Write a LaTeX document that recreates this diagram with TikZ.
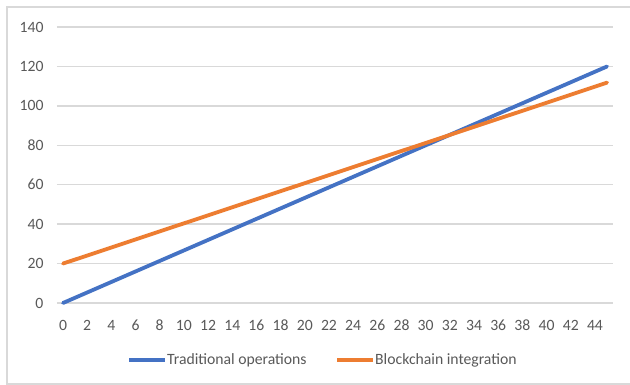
\documentclass[tikz,border=0pt]{standalone}
\usepackage{fontspec}
\setmainfont{Carlito}
\definecolor{xlblue}{HTML}{4472C4}
\definecolor{xlorange}{HTML}{ED7D31}
\definecolor{gridgray}{HTML}{D9D9D9}
\definecolor{labelgray}{HTML}{595959}
\tikzset{
  gridline/.style={gridgray, line width=1.4pt},
  ticklabel/.style={labelgray, font=\fontsize{15.7}{17}\selectfont, inner sep=0pt},
  series/.style={line width=3.8pt, line cap=round},
}
\begin{document}
\begin{tikzpicture}[x=1pt,y=1pt]
\useasboundingbox (0,0) rectangle (630,385);
\fill[white] (0,0) rectangle (630,385);
% chart frame
\draw[gridgray, line width=1.2pt] (632,378) -- (7,378) -- (7,1) -- (632,1);
\begin{scope}[shift={(63pt,82pt)}, x=12.09pt, y=1.971pt]
% horizontal grid and y labels
\foreach \v in {0,20,...,140} {
  \draw[gridline] (-0.5,\v) -- (45.5,\v);
  \node[ticklabel, anchor=east] (ylab\v) at (-1.6,\v) {\v};
}
% x labels
\foreach \i in {0,2,...,44}
  \node[ticklabel] (xlab\i) at (\i,-11.2) {\i};
% series
\draw[series, xlblue] (0,0) -- (45,120);
\draw[series, xlorange] (0,20) -- (45,111.8);
\end{scope}
% legend
\coordinate (tradA) at (129,25);
\coordinate (tradB) at (165,25);
\coordinate (blockA) at (337,25);
\coordinate (blockB) at (373,25);
\draw[series, xlblue, line cap=butt] (tradA) -- (tradB);
\node[ticklabel, anchor=west] (tradtxt) at (167,25) {Traditional operations};
\draw[series, xlorange, line cap=butt] (blockA) -- (blockB);
\node[ticklabel, anchor=west] (blocktxt) at (375,25) {Blockchain integration};
\end{tikzpicture}
\end{document}
